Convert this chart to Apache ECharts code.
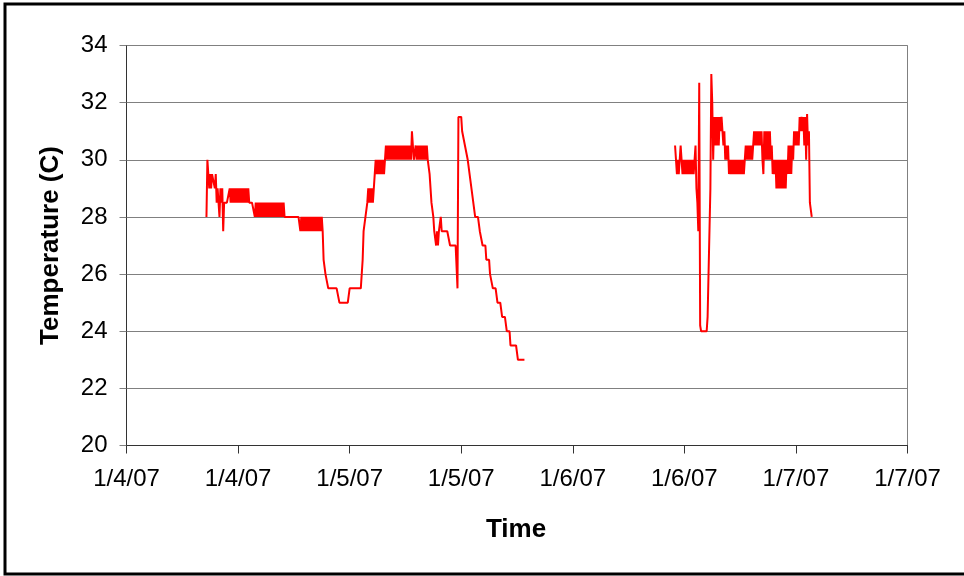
<!DOCTYPE html>
<html>
<head>
<meta charset="utf-8">
<script src="https://cdn.jsdelivr.net/npm/echarts@6/dist/echarts.min.js"></script>
<style>
html,body{margin:0;padding:0;background:#fff;}
#chart{width:964px;height:576px;}
</style>
</head>
<body>
<div id="chart"></div>
<script>
// x axis: hours since 1/4/07 00:00, ticks every 12 hours
const tickLabels = ['1/4/07','1/4/07','1/5/07','1/5/07','1/6/07','1/6/07','1/7/07','1/7/07'];
const tickHours = 12;
const sampleHours = 0.1; // logger interval (hours)

// first logging run (temperatures in C), one row per hour, starting at hour 8.6
const seg1Start = 8.6;
const seg1Temps = [
  28, 30, 29.5, 29, 29.5, 29, 29.5, 29.5, 29.5, 29,
  29.5, 28.5, 29, 28.5, 28, 29, 28.5, 29, 27.5, 28.5,
  28.5, 28.5, 28.5, 28.5, 28.5, 29, 28.5, 29, 28.5, 29,
  28.5, 29, 28.5, 29, 28.5, 29, 28.5, 29, 28.5, 29,
  28.5, 29, 28.5, 29, 28.5, 29, 28.5, 28.5, 28.5, 28.5,
  28.5, 28.5, 28, 28.5, 28, 28.5, 28, 28.5, 28, 28.5,
  28, 28.5, 28, 28.5, 28, 28.5, 28, 28.5, 28, 28.5,
  28, 28.5, 28, 28.5, 28, 28.5, 28, 28.5, 28, 28.5,
  28, 28.5, 28, 28.5, 28, 28, 28, 28, 28, 28,
  28, 28, 28, 28, 28, 28, 28, 28, 28, 28,
  28, 27.5, 28, 27.5, 28, 27.5, 28, 27.5, 28, 27.5,
  28, 27.5, 28, 27.5, 28, 27.5, 28, 27.5, 28, 27.5,
  28, 27.5, 28, 27.5, 28, 27.5, 26.5, 26.5, 26, 26,
  26, 25.5, 25.5, 25.5, 25.5, 25.5, 25.5, 25.5, 25.5, 25.5,
  25.5, 25.5, 25.5, 25, 25, 25, 25, 25, 25, 25,
  25, 25, 25, 25, 25.5, 25.5, 25.5, 25.5, 25.5, 25.5,
  25.5, 25.5, 25.5, 25.5, 25.5, 25.5, 25.5, 25.5, 26.5, 27.5,
  27.5, 28, 28, 28.5, 29, 28.5, 29, 28.5, 29, 28.5,
  29, 29.5, 30, 29.5, 30, 29.5, 30, 29.5, 30, 29.5,
  30, 29.5, 30, 30.5, 30, 30.5, 30, 30.5, 30, 30.5,
  30, 30.5, 30, 30.5, 30, 30.5, 30, 30.5, 30, 30.5,
  30, 30.5, 30, 30.5, 30, 30.5, 30, 30.5, 30, 30.5,
  30, 31, 30.5, 30, 30, 30.5, 30, 30.5, 30, 30.5,
  30, 30.5, 30, 30.5, 30, 30.5, 30, 30.5, 30, 30,
  29.5, 29.5, 28.5, 28.5, 28, 27.5, 27.5, 27, 27.5, 27,
  27.5, 27.5, 28, 27.5, 27.5, 27.5, 27.5, 27.5, 27.5, 27.5,
  27.5, 27.5, 27, 27, 27, 27, 27, 27, 27, 27,
  25.5, 31.5, 31.5, 31.5, 31.5, 31, 31, 31, 30.5, 30.5,
  30.5, 30, 30, 29.5, 29.5, 29, 29, 28.5, 28.5, 28,
  28, 28, 28, 28, 27.5, 27.5, 27.5, 27, 27, 27,
  27, 26.5, 26.5, 26.5, 26.5, 26, 26, 26, 25.5, 25.5,
  25.5, 25.5, 25.5, 25, 25, 25, 25, 25, 24.5, 24.5,
  24.5, 24.5, 24.5, 24, 24, 24, 24, 23.5, 23.5, 23.5,
  23.5, 23.5, 23.5, 23.5, 23.5, 23, 23, 23, 23, 23,
  23, 23, 23
];

// second logging run, one row per hour, starting at hour 59.0
const seg2Start = 59.0;
const seg2Temps = [
  30.5, 30.5, 29.5, 30, 29.5, 30, 30.5, 30.5, 29.5, 30,
  29.5, 30, 29.5, 30, 29.5, 30, 29.5, 30, 29.5, 30,
  29.5, 30, 30.5, 29, 28.5, 27.5, 32.7, 24.2, 24, 24,
  24, 24, 24, 24, 24, 24.5, 24.5, 24.5, 29, 33,
  32, 30, 31.5, 30.5, 31.5, 30.5, 31.5, 30.5, 31.5, 31,
  31.5, 31, 30.5, 31, 30, 30.5, 30, 30.5, 29.5, 30,
  29.5, 30, 29.5, 30, 29.5, 30, 29.5, 30, 29.5, 30,
  29.5, 30, 29.5, 30, 29.5, 30, 30.5, 30, 30.5, 30,
  30.5, 30, 30.5, 30, 30.5, 31, 30.5, 31, 30.5, 31,
  30.5, 31, 30.5, 31, 30, 29.5, 31, 30, 31, 30,
  31, 30, 31, 30, 30.5, 29.5, 30, 29.5, 30, 29,
  30, 29, 30, 29, 30, 29, 30, 29, 30, 29,
  30, 29.5, 30.5, 29.5, 30.5, 29.5, 30.5, 30, 31, 30.5,
  31, 30.5, 31, 30.5, 31.5, 31, 31.5, 31, 31.5, 30.5,
  31.5, 30, 31.6, 30.5, 31, 28.5, 28.5, 28
];

function toPairs(start, temps) {
  return temps.map((t, i) => [Math.round((start + i * sampleHours) * 100) / 100, t]);
}

const font = '"Liberation Sans", Arial, sans-serif';
const chart = echarts.init(document.getElementById('chart'), null, {renderer: 'canvas'});

const lineSeries = (name, data) => ({
  name: name,
  type: 'line',
  data: data,
  showSymbol: false,
  symbol: 'none',
  lineStyle: {color: '#ff0000', width: 2},
  itemStyle: {color: '#ff0000'},
  animation: false,
  silent: true
});

chart.setOption({
  animation: false,
  backgroundColor: '#ffffff',
  grid: {
    left: 126.5, right: 56.5, top: 45.5, bottom: 130.5,
    show: true, borderColor: '#808080', borderWidth: 1, backgroundColor: '#ffffff'
  },
  xAxis: {
    type: 'value',
    min: 0,
    max: tickHours * (tickLabels.length - 1),
    interval: tickHours,
    axisLine: {show: true, lineStyle: {color: '#333', width: 1}},
    axisTick: {show: true, inside: false, length: 8, lineStyle: {color: '#333'}},
    splitLine: {show: false},
    axisLabel: {
      color: '#000', fontSize: 24, fontFamily: font, margin: 22,
      showMinLabel: true, showMaxLabel: true,
      formatter: v => tickLabels[Math.round(v / tickHours)]
    }
  },
  yAxis: {
    type: 'value',
    min: 20, max: 34, interval: 2,
    axisLine: {show: true, lineStyle: {color: '#333', width: 1}},
    axisTick: {show: true, inside: false, length: 7, lineStyle: {color: '#808080'}},
    splitLine: {show: true, lineStyle: {color: '#808080', width: 1}},
    axisLabel: {color: '#000', fontSize: 24, fontFamily: font, margin: 19}
  },
  series: [
    lineSeries('Run 1', toPairs(seg1Start, seg1Temps)),
    lineSeries('Run 2', toPairs(seg2Start, seg2Temps))
  ],
  graphic: [
    {
      type: 'rect', silent: true, z: 100,
      shape: {x: 5, y: 4, width: 1000, height: 570},
      style: {fill: null, stroke: '#000', lineWidth: 3}
    },
    {
      type: 'text', silent: true, z: 100,
      x: 51, y: 245.5, rotation: Math.PI / 2,
      style: {
        text: 'Temperature (C)', fill: '#000',
        font: 'bold 26px ' + font,
        align: 'center', verticalAlign: 'middle',
        textAlign: 'center', textVerticalAlign: 'middle'
      }
    },
    {
      type: 'text', silent: true, z: 100,
      x: 516, y: 530,
      style: {
        text: 'Time', fill: '#000',
        font: 'bold 26px ' + font,
        align: 'center', verticalAlign: 'middle',
        textAlign: 'center', textVerticalAlign: 'middle'
      }
    }
  ]
});
</script>
</body>
</html>
